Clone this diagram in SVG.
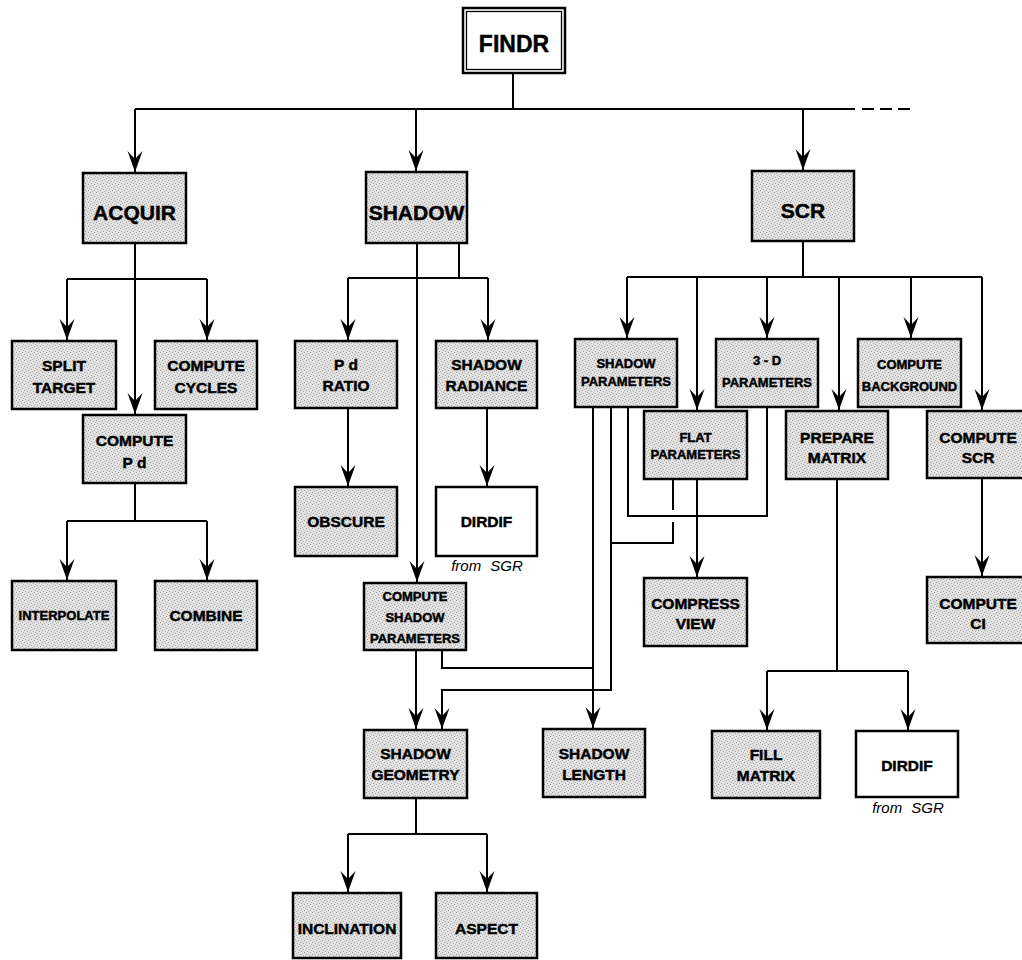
<svg xmlns="http://www.w3.org/2000/svg" width="1022" height="960" viewBox="0 0 1022 960">
<defs>
<pattern id="stip" width="6" height="6" patternUnits="userSpaceOnUse">
<rect width="6" height="6" fill="#e2e2e2"/>
<rect x="0" y="0" width="1" height="1" fill="#999"/>
<rect x="3" y="1" width="1" height="1" fill="#aaa"/>
<rect x="1" y="3" width="1" height="1" fill="#a4a4a4"/>
<rect x="4" y="4" width="1" height="1" fill="#9c9c9c"/>
<rect x="5" y="2" width="1" height="1" fill="#bbb"/>
<rect x="2" y="5" width="1" height="1" fill="#b5b5b5"/>
</pattern>
<marker id="arr" markerUnits="userSpaceOnUse" viewBox="-22 -8 23 16" refX="0" refY="0" markerWidth="23" markerHeight="16" orient="auto">
<path d="M0,0 L-21,-7.5 L-13,0 L-21,7.5 Z" fill="#000"/>
</marker>
</defs>
<style>
.b{fill:url(#stip);stroke:#000;stroke-width:2.5}
.w{fill:#fff;stroke:#000;stroke-width:2.5}
.c{fill:none;stroke:#000;stroke-width:2}
.a{fill:none;stroke:#000;stroke-width:2;marker-end:url(#arr)}
text{font-family:"Liberation Sans",Arial,sans-serif;font-weight:bold;text-anchor:middle;fill:#000;stroke:#000;stroke-width:0.45}
.L{font-size:21px}
.M{font-size:15.5px}
.S{font-size:13px}
.it{font-weight:normal;font-style:italic;font-size:15px;word-spacing:5px;stroke:none}
</style>

<g id="connectors">
<path class="c" d="M513,73 V109 M135,109 H855"/>
<path class="c" d="M862,109 H911" stroke-dasharray="12 6"/>
<path class="a" d="M135,109 V172"/>
<path class="a" d="M416,109 V171"/>
<path class="a" d="M803,109 V170"/>
<path class="a" d="M135,243 V414"/>
<path class="c" d="M67,279 H207"/>
<path class="a" d="M67,279 V340"/>
<path class="a" d="M207,279 V340"/>
<path class="c" d="M135,483 V521 M67,521 H207"/>
<path class="a" d="M67,521 V580"/>
<path class="a" d="M207,521 V580"/>
<path class="a" d="M417,243 V582"/>
<path class="c" d="M459,243 V278 M348,278 H488"/>
<path class="a" d="M348,278 V340"/>
<path class="a" d="M488,278 V340"/>
<path class="a" d="M348,408 V486"/>
<path class="a" d="M487,408 V486"/>
<path class="a" d="M416,650 V729"/>
<path class="c" d="M442,650 V668 H593"/>
<path class="a" d="M593,407 V728"/>
<path class="a" d="M611,407 V690 H442 V729"/>
<path class="c" d="M628,407 V516 H767 V407"/>
<path class="a" d="M697,479 V577"/>
<path class="c" d="M673,479 V510 M673,522 V543 H611" stroke-width="1.6"/>
<path class="c" d="M803,241 V277 M627,277 H982"/>
<path class="a" d="M627,277 V338"/>
<path class="a" d="M697,277 V410"/>
<path class="a" d="M767,277 V338"/>
<path class="a" d="M839,277 V410"/>
<path class="a" d="M911,277 V338"/>
<path class="a" d="M982,277 V410"/>
<path class="c" d="M837,479 V671 M767,671 H908"/>
<path class="a" d="M767,671 V730"/>
<path class="a" d="M908,671 V730"/>
<path class="a" d="M982,478 V576"/>
<path class="c" d="M416,798 V834 M348,834 H487"/>
<path class="a" d="M348,834 V892"/>
<path class="a" d="M487,834 V892"/>
</g>

<g id="findr">
<rect x="463" y="8" width="102" height="65" fill="#fff" stroke="#000" stroke-width="2.5"/>
<rect x="466.5" y="11.5" width="95" height="58" fill="none" stroke="#000" stroke-width="1.3"/>
<text class="L" x="514" y="52" style="font-size:23px">FINDR</text>
</g>
<g id="acquir"><rect class="b" x="83" y="173" width="103" height="70"/><text class="L" x="134.5" y="220">ACQUIR</text></g>
<g id="shadow"><rect class="b" x="366" y="172" width="101" height="71"/><text class="L" x="416.5" y="220">SHADOW</text></g>
<g id="scr"><rect class="b" x="752" y="171" width="102" height="70"/><text class="L" x="803" y="218">SCR</text></g>

<g id="split-target"><rect class="b" x="12" y="341" width="104" height="68"/><text class="M" x="64" y="371">SPLIT</text><text class="M" x="64" y="392.5">TARGET</text></g>
<g id="compute-cycles"><rect class="b" x="155" y="341" width="102" height="68"/><text class="M" x="206" y="371">COMPUTE</text><text class="M" x="206" y="392.5">CYCLES</text></g>
<g id="compute-pd"><rect class="b" x="83" y="415" width="103" height="68"/><text class="M" x="134.5" y="446">COMPUTE</text><text class="M" x="134.5" y="468">P d</text></g>
<g id="interpolate"><rect class="b" x="12" y="581" width="104" height="69"/><text class="S" x="64" y="620">INTERPOLATE</text></g>
<g id="combine"><rect class="b" x="155" y="581" width="102" height="69"/><text class="M" x="206" y="621">COMBINE</text></g>

<g id="pd-ratio"><rect class="b" x="295" y="341" width="102" height="67"/><text class="M" x="346" y="370">P d</text><text class="M" x="346" y="391">RATIO</text></g>
<g id="shadow-radiance"><rect class="b" x="436" y="341" width="101" height="67"/><text class="M" x="486.5" y="370">SHADOW</text><text class="M" x="486.5" y="391">RADIANCE</text></g>
<g id="obscure"><rect class="b" x="295" y="487" width="102" height="69"/><text class="M" x="346" y="527">OBSCURE</text></g>
<g id="dirdif-1"><rect class="w" x="436" y="487" width="101" height="69"/><text class="M" x="486.5" y="527">DIRDIF</text><text class="it" x="487" y="571">from SGR</text></g>
<g id="compute-shadow-parameters"><rect class="b" x="364" y="583" width="102" height="67"/><text class="S" x="415" y="600.5">COMPUTE</text><text class="S" x="415" y="621.5">SHADOW</text><text class="S" x="415" y="642.5">PARAMETERS</text></g>
<g id="shadow-geometry"><rect class="b" x="364" y="730" width="103" height="68"/><text class="M" x="415.5" y="759">SHADOW</text><text class="M" x="415.5" y="780">GEOMETRY</text></g>
<g id="shadow-length"><rect class="b" x="543" y="729" width="102" height="68"/><text class="M" x="594" y="759">SHADOW</text><text class="M" x="594" y="780">LENGTH</text></g>
<g id="inclination"><rect class="b" x="293" y="893" width="108" height="65"/><text class="M" x="347" y="934">INCLINATION</text></g>
<g id="aspect"><rect class="b" x="436" y="893" width="101" height="65"/><text class="M" x="486.5" y="934">ASPECT</text></g>

<g id="shadow-parameters"><rect class="b" x="575" y="339" width="102" height="68"/><text class="S" x="626" y="368">SHADOW</text><text class="S" x="626" y="386">PARAMETERS</text></g>
<g id="three-d-parameters"><rect class="b" x="716" y="339" width="102" height="68"/><text class="S" x="767" y="365">3 - D</text><text class="S" x="767" y="387">PARAMETERS</text></g>
<g id="compute-background"><rect class="b" x="858" y="339" width="103" height="68"/><text class="S" x="909.5" y="369">COMPUTE</text><text class="S" x="909.5" y="391">BACKGROUND</text></g>
<g id="flat-parameters"><rect class="b" x="644" y="411" width="103" height="68"/><text class="S" x="695.5" y="442">FLAT</text><text class="S" x="695.5" y="459">PARAMETERS</text></g>
<g id="prepare-matrix"><rect class="b" x="786" y="411" width="102" height="68"/><text class="M" x="837" y="443">PREPARE</text><text class="M" x="837" y="463">MATRIX</text></g>
<g id="compute-scr"><rect class="b" x="927" y="411" width="102" height="67"/><text class="M" x="978" y="443">COMPUTE</text><text class="M" x="978" y="463">SCR</text></g>
<g id="compress-view"><rect class="b" x="644" y="578" width="103" height="68"/><text class="M" x="695.5" y="609">COMPRESS</text><text class="M" x="695.5" y="629">VIEW</text></g>
<g id="compute-ci"><rect class="b" x="927" y="577" width="102" height="66"/><text class="M" x="978" y="609">COMPUTE</text><text class="M" x="978" y="629">CI</text></g>
<g id="fill-matrix"><rect class="b" x="712" y="731" width="108" height="67"/><text class="M" x="766" y="760">FILL</text><text class="M" x="766" y="781">MATRIX</text></g>
<g id="dirdif-2"><rect class="w" x="856" y="731" width="102" height="66"/><text class="M" x="907" y="771">DIRDIF</text><text class="it" x="908" y="813">from SGR</text></g>
</svg>
